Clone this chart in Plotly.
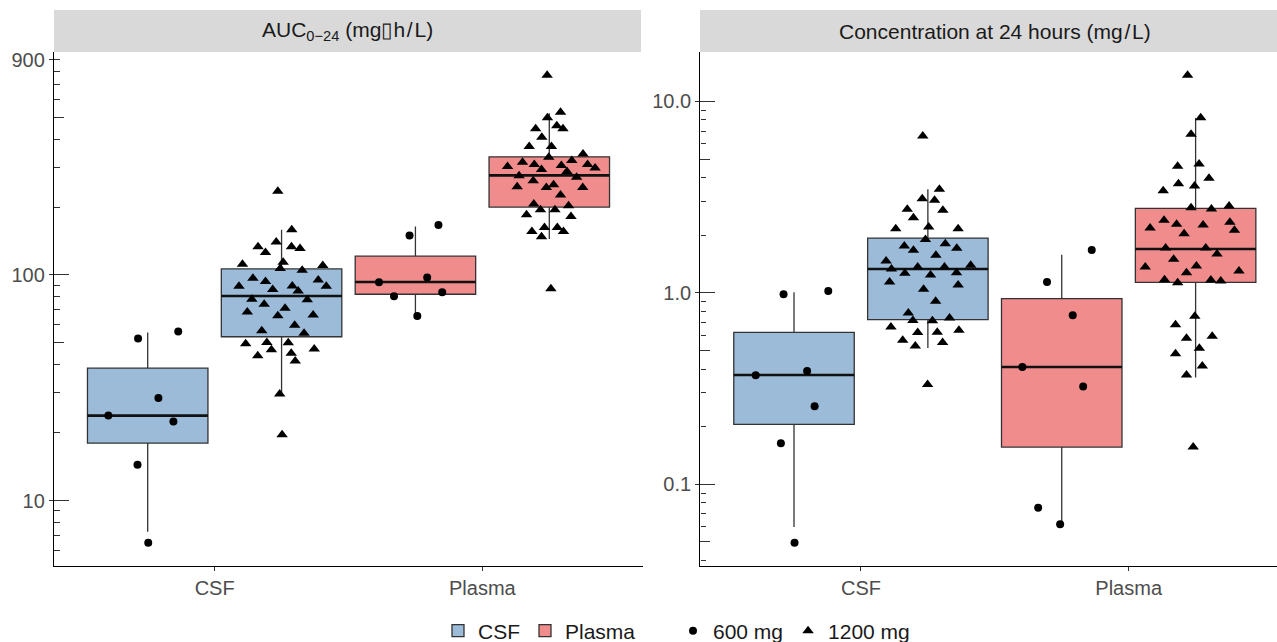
import numpy as np
import plotly.graph_objects as go

# ---------------- data ----------------
categories = ["CSF", "Plasma"]
doses = ["600 mg", "1200 mg"]
panel_titles = ["AUC<sub>0\u221224</sub> (mg\u25afh\u200a/\u200aL)",
                "Concentration at 24 hours (mg\u200a/\u200aL)"]
auc_ticks = [10, 100, 900]
auc_ticklabels = ["10", "100", "900"]
conc_ticks = [0.1, 1, 10]
conc_ticklabels = ["0.1", "1.0", "10.0"]

# box statistics: [lower whisker, q1, median, q3, upper whisker]
auc_csf_600_box = [7.28, 17.98, 23.8, 38.6, 55.6]
auc_csf_1200_box = [29.7, 53.2, 80.7, 106.3, 158.5]
auc_plasma_600_box = [65.7, 82.1, 93.1, 121.1, 163.9]
auc_plasma_1200_box = [144.1, 199.9, 276.3, 333.6, 521.2]
conc_csf_600_box = [0.0598, 0.2058, 0.3722, 0.6219, 1.006]
conc_csf_1200_box = [0.515, 0.7245, 1.331, 1.932, 3.471]
conc_plasma_600_box = [0.0618, 0.1566, 0.410, 0.933, 1.583]
conc_plasma_1200_box = [0.361, 1.135, 1.693, 2.762, 8.181]

# individual observations and their horizontal jitter (category units)
auc_csf_600_vals = [52.3, 56.2, 28.5, 23.8, 22.4, 14.4, 6.51]
auc_csf_600_jit = [-0.036, 0.114, 0.040, -0.147, 0.096, -0.038, 0.002]
auc_csf_1200_vals = [234.6, 158.5, 133.2, 139.8, 125.6, 133.2, 130.9, 111.6, 113.9, 106.7,
                     104.9, 110.0, 96.7, 93.4, 89.1, 86.1, 89.4, 84.9, 95.0, 89.1,
                     78.0, 77.7, 74.1, 68.5, 71.1, 65.9, 66.4, 59.9, 56.5, 55.2,
                     49.5, 50.2, 50.0, 47.0, 43.8, 46.6, 45.0, 41.6, 29.7, 19.6]
auc_csf_1200_jit = [-0.014, 0.038, -0.088, -0.020, -0.060, 0.037, 0.069, -0.146, 0.006, -0.005,
                    0.077, 0.154, -0.107, -0.060, -0.159, -0.033, 0.040, 0.062, 0.137, 0.167,
                    -0.111, 0.096, -0.065, -0.128, 0.013, -0.014, 0.118, 0.049, -0.074, 0.084,
                    -0.134, -0.055, 0.025, 0.122, -0.089, -0.038, 0.036, 0.051, -0.007, 0.002]
auc_plasma_600_vals = [149.5, 166.3, 97.3, 92.8, 80.4, 83.8, 65.7]
auc_plasma_600_jit = [-0.022, 0.086, 0.044, -0.136, -0.080, 0.100, 0.007]
auc_plasma_1200_vals = [766.3, 526.6, 497.2, 458.0, 444.2, 444.2, 407.6, 370.7, 370.7, 332.2,
                        343.9, 321.1, 315.6, 308.3, 302.0, 292.9, 305.2, 308.3, 298.1, 287.0,
                        275.4, 270.7, 261.7, 246.1, 244.3, 251.2, 244.3, 226.1, 206.2, 194.5,
                        194.5, 202.6, 184.8, 181.6, 155.7, 162.3, 162.3, 155.7, 147.5, 86.9]
auc_plasma_1200_jit = [-0.008, 0.042, -0.007, 0.028, 0.051, -0.051, -0.028, -0.075, 0.008, -0.002,
                       0.126, 0.084, -0.100, -0.056, -0.156, -0.029, 0.045, 0.143, 0.171, 0.066,
                       -0.113, 0.102, -0.060, -0.120, -0.011, 0.016, 0.125, 0.042, -0.058, -0.033,
                       0.021, 0.072, -0.085, 0.081, -0.065, -0.018, 0.030, 0.053, -0.029, 0.006]

conc_csf_600_vals = [0.982, 1.022, 0.371, 0.391, 0.256, 0.164, 0.0496]
conc_csf_600_jit = [-0.039, 0.128, -0.143, 0.049, 0.077, -0.049, 0.002]
conc_csf_1200_vals = [6.589, 3.471, 3.104, 3.041, 2.729, 2.697, 2.470, 2.164, 2.206, 2.164,
                      1.902, 1.755, 1.667, 1.806, 1.708, 1.570, 1.466, 1.331, 1.364, 1.364,
                      1.392, 1.264, 1.239, 1.275, 1.139, 1.098, 1.043, 0.903, 0.784, 0.718,
                      0.716, 0.739, 0.663, 0.637, 0.620, 0.622, 0.565, 0.528, 0.550, 0.332]
conc_csf_1200_jit = [-0.019, 0.043, -0.021, 0.025, -0.077, 0.056, -0.054, -0.120, 0.003, 0.113,
                     -0.009, -0.088, -0.054, 0.065, 0.108, 0.030, -0.156, -0.136, -0.038, 0.062,
                     0.160, -0.086, 0.010, 0.107, -0.143, 0.113, -0.016, 0.029, -0.073, -0.056,
                     0.017, 0.081, -0.138, 0.116, -0.038, 0.035, -0.094, -0.047, 0.055, -0.001]
conc_plasma_600_vals = [1.673, 1.139, 0.763, 0.410, 0.324, 0.0755, 0.0618]
conc_plasma_600_jit = [0.112, -0.055, 0.041, -0.147, 0.080, -0.088, -0.006]
conc_plasma_1200_vals = [13.67, 8.220, 6.725, 4.577, 4.705, 3.963, 3.718, 3.612, 3.418, 2.786,
                         2.739, 2.840, 2.391, 2.279, 2.259, 2.334, 2.179, 2.038, 2.120, 1.714,
                         1.714, 1.594, 1.496, 1.380, 1.364, 1.275, 1.299, 1.172, 1.130, 1.166,
                         1.152, 0.754, 0.682, 0.593, 0.579, 0.513, 0.481, 0.415, 0.372, 0.1566]
conc_plasma_1200_jit = [-0.030, 0.019, -0.017, -0.067, 0.013, 0.050, -0.064, -0.004, -0.121, -0.017,
                        0.059, 0.125, -0.118, -0.071, 0.028, 0.128, -0.170, -0.043, 0.145, -0.112,
                        0.038, 0.080, -0.082, 0.003, -0.188, -0.034, 0.162, -0.116, -0.067, 0.057,
                        0.094, -0.003, -0.075, 0.062, -0.034, 0.014, -0.075, 0.025, -0.034, -0.009]

# ---------------- styling / layout ----------------
W, H = 1277, 642
FONT = "Liberation Sans, Arial, sans-serif"
PANEL_Y = [1 - 566 / H, 1 - 52 / H]
STRIP_Y = [1 - 52 / H, 1 - 10 / H]
X_DOMAINS = [[54 / W, 643 / W], [700.3 / W, 1.0]]
X_RANGES = [[-0.6, 1.6], [-0.6, 1.554]]
STRIP_X = [[54 / W, 641 / W], [700 / W, 1.0]]
STRIP_TEXT_X = [(54 + 641) / 2 / W, (700.3 + 1289) / 2 / W]
DODGE = {"600 mg": -0.25, "1200 mg": 0.25}
FILL = {"CSF": "#9BBBD9", "Plasma": "#F08C8C"}
SYMBOL = {"600 mg": "circle", "1200 mg": "triangle-up"}
MSIZE = {"600 mg": 8, "1200 mg": 10}
BOXW = 0.45

panels = [
    {
        ("CSF", "600 mg"): (auc_csf_600_box, auc_csf_600_vals, auc_csf_600_jit),
        ("CSF", "1200 mg"): (auc_csf_1200_box, auc_csf_1200_vals, auc_csf_1200_jit),
        ("Plasma", "600 mg"): (auc_plasma_600_box, auc_plasma_600_vals, auc_plasma_600_jit),
        ("Plasma", "1200 mg"): (auc_plasma_1200_box, auc_plasma_1200_vals, auc_plasma_1200_jit),
    },
    {
        ("CSF", "600 mg"): (conc_csf_600_box, conc_csf_600_vals, conc_csf_600_jit),
        ("CSF", "1200 mg"): (conc_csf_1200_box, conc_csf_1200_vals, conc_csf_1200_jit),
        ("Plasma", "600 mg"): (conc_plasma_600_box, conc_plasma_600_vals, conc_plasma_600_jit),
        ("Plasma", "1200 mg"): (conc_plasma_1200_box, conc_plasma_1200_vals, conc_plasma_1200_jit),
    },
]
axes = [("x", "y"), ("x2", "y2")]

fig = go.Figure()
yranges = []
for p, panel in enumerate(panels):
    xa, ya = axes[p]
    allv = []
    # boxes
    for ci, cat in enumerate(categories):
        for dose in doses:
            box, vals, jit = panel[(cat, dose)]
            allv += list(box) + list(vals)
            lo, q1, med, q3, hi = box
            fig.add_trace(go.Box(
                x=[ci + DODGE[dose]], q1=[q1], median=[med], q3=[q3],
                lowerfence=[lo], upperfence=[hi], width=BOXW,
                fillcolor=FILL[cat], line=dict(color="#333333", width=1.3),
                boxpoints=False, whiskerwidth=0, name=cat, legendgroup=cat,
                showlegend=(p == 0 and dose == "600 mg"), legend="legend",
                xaxis=xa, yaxis=ya, hoverinfo="skip"))
    # thicker median bars
    for ci, cat in enumerate(categories):
        for dose in doses:
            box, vals, jit = panel[(cat, dose)]
            med = box[2]
            fig.add_trace(go.Box(
                x=[ci + DODGE[dose]], q1=[med], median=[med], q3=[med],
                lowerfence=[med], upperfence=[med], width=BOXW,
                fillcolor="rgba(0,0,0,0)", line=dict(color="#111111", width=2.6),
                boxpoints=False, whiskerwidth=0, showlegend=False,
                xaxis=xa, yaxis=ya, hoverinfo="skip"))
    # points
    for dose in doses:
        for ci, cat in enumerate(categories):
            box, vals, jit = panel[(cat, dose)]
            fig.add_trace(go.Scatter(
                x=[ci + DODGE[dose] + j for j in jit], y=vals, mode="markers",
                marker=dict(symbol=SYMBOL[dose], size=MSIZE[dose], color="black",
                            line=dict(width=0)),
                name=dose, legendgroup=dose, legend="legend2",
                showlegend=(p == 0 and cat == "CSF"),
                xaxis=xa, yaxis=ya, hoverinfo="skip"))
    lmin, lmax = np.log10(min(allv)), np.log10(max(allv))
    pad = 0.05 * (lmax - lmin)
    yranges.append([lmin - pad, lmax + pad])

# invisible traces to register the tick-overlay axes
fig.add_trace(go.Scatter(x=[None], y=[None], xaxis="x", yaxis="y3", showlegend=False, hoverinfo="skip"))
fig.add_trace(go.Scatter(x=[None], y=[None], xaxis="x2", yaxis="y4", showlegend=False, hoverinfo="skip"))


def decade_vals(mults, lo=-3, hi=4):
    return [m * 10.0 ** k for k in range(lo, hi) for m in mults]


short_vals = decade_vals([2, 3, 4, 6, 7, 8, 9])
mid_vals = decade_vals([5])
long_vals = decade_vals([1])

tickfont = dict(family=FONT, size=20, color="#4D4D4D")
TICKC = "#333333"


def xaxis(i):
    return dict(domain=X_DOMAINS[i], range=X_RANGES[i], anchor=axes[i][1],
                tickvals=[0, 1], ticktext=categories, ticks="outside", ticklen=4,
                tickwidth=1.3, tickcolor=TICKC, showline=True, linecolor="black",
                linewidth=1.4, showgrid=False, zeroline=False, tickfont=tickfont,
                automargin=False)


def yaxis(i, tv, tt):
    return dict(domain=PANEL_Y, type="log", range=yranges[i], anchor=axes[i][0],
                tickvals=tv, ticktext=tt, ticks="outside", ticklen=4, tickwidth=1.3,
                tickcolor=TICKC, showline=True, linecolor="black", linewidth=1.4,
                showgrid=False, zeroline=False, tickfont=tickfont, automargin=False,
                minor=dict(ticks="inside", ticklen=5.5, tickwidth=1.2, tickcolor=TICKC,
                           tickmode="array", tickvals=short_vals, showgrid=False))


def yoverlay(i):
    return dict(overlaying=axes[i][1], anchor=axes[i][0], side="left", type="log",
                range=yranges[i], tickmode="array", tickvals=long_vals, ticks="inside",
                ticklen=15, tickwidth=1.3, tickcolor=TICKC, showticklabels=False,
                showline=False, showgrid=False, zeroline=False, automargin=False,
                minor=dict(ticks="inside", ticklen=10, tickwidth=1.2, tickcolor=TICKC,
                           tickmode="array", tickvals=mid_vals, showgrid=False))


shapes = []
annotations = []
for i in range(2):
    shapes.append(dict(type="rect", xref="paper", yref="paper",
                       x0=STRIP_X[i][0], x1=STRIP_X[i][1], y0=STRIP_Y[0], y1=STRIP_Y[1],
                       fillcolor="#D9D9D9", line=dict(width=0), layer="below"))
    annotations.append(dict(text=panel_titles[i], xref="paper", yref="paper",
                            x=STRIP_TEXT_X[i], y=(STRIP_Y[0] + STRIP_Y[1]) / 2,
                            showarrow=False, xanchor="center", yanchor="middle",
                            font=dict(family=FONT, size=21, color="#1A1A1A")))

legend_common = dict(orientation="h", yanchor="middle", y=(H - 631) / H, xanchor="left",
                     font=dict(family=FONT, size=21, color="#1A1A1A"),
                     bgcolor="rgba(0,0,0,0)", itemwidth=30, tracegroupgap=0)

fig.update_layout(
    width=W, height=H, autosize=False,
    margin=dict(l=0, r=0, t=0, b=0, pad=0, autoexpand=False),
    paper_bgcolor="white", plot_bgcolor="white",
    font=dict(family=FONT, size=20, color="#1A1A1A"),
    xaxis=xaxis(0), xaxis2=xaxis(1),
    yaxis=yaxis(0, auc_ticks, auc_ticklabels),
    yaxis2=yaxis(1, conc_ticks, conc_ticklabels),
    yaxis3=yoverlay(0), yaxis4=yoverlay(1),
    shapes=shapes, annotations=annotations,
    legend=dict(x=438 / W, **legend_common),
    legend2=dict(x=673 / W, **legend_common),
    boxmode="overlay",
    showlegend=True,
)

fig.write_html("out.html", config={"displayModeBar": False},
               post_script="document.body.style.margin='0px';document.body.style.padding='0px';")
